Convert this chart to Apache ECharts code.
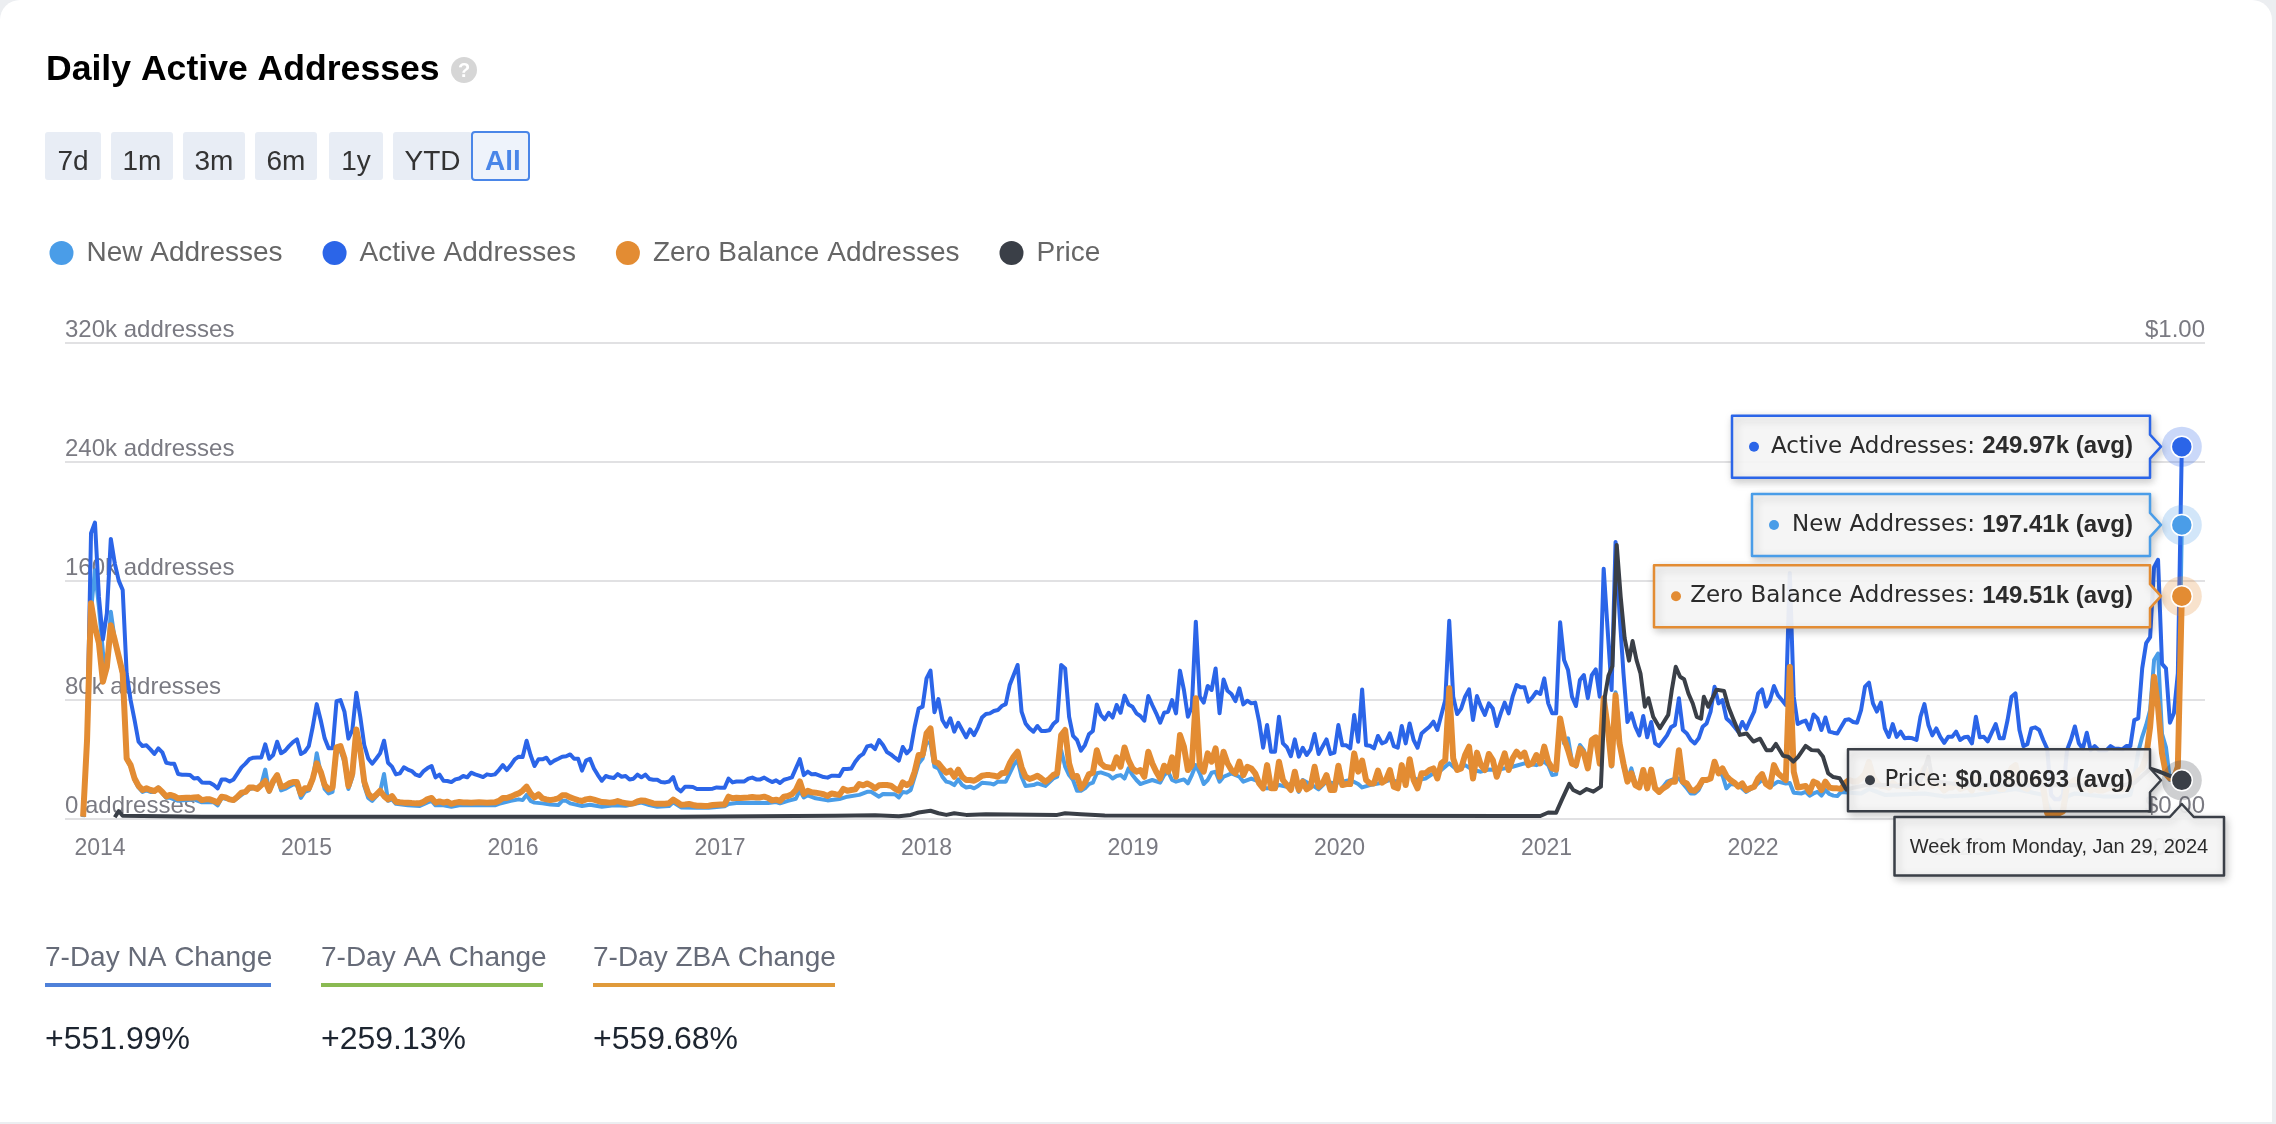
<!DOCTYPE html>
<html><head><meta charset="utf-8">
<style>html,body{margin:0;padding:0;background:#eceef1;width:2276px;height:1124px;overflow:hidden}
#card{position:absolute;left:0;top:0;width:2272px;height:1122px;background:#fff;border-radius:20px 20px 0 0}
#c{position:absolute;left:0;top:0;width:2276px;height:1124px}</style>
<script src="https://cdn.jsdelivr.net/npm/echarts@6/dist/echarts.min.js"></script>
</head><body><div id="card"></div><div id="c"></div>
<script>
// Weeks are counted from Monday 2 Dec 2013; week 530 is Monday 29 Jan 2024.
const firstWeek = [2013, 11, 2];
const yearTicks = [2014, 2015, 2016, 2017, 2018, 2019, 2020, 2021, 2022, 2023, 2024];
const addressTicks = [0, 80, 160, 240, 320];
const priceTicks = [0, 1];
const rangeButtons = ['7d', '1m', '3m', '6m', '1y', 'YTD', 'All'];
const seriesNames = ['New Addresses', 'Active Addresses', 'Zero Balance Addresses', 'Price'];
const statLabels = ['7-Day NA Change', '7-Day AA Change', '7-Day ZBA Change'];
const statValues = ['+551.99%', '+259.13%', '+559.68%'];

// thousands of addresses, one value per week
const activeWeekly = [
3,55,191.8,199,149,120.5,138,188,171.6,160,
153.7,97.7,79.7,66.3,51.7,48.8,49.3,46.6,43.5,47.3,
44.6,37.6,37,37,30,29.6,29.6,29.3,27,27.3,
24.4,24.2,24.2,22.6,20.4,26.4,26.4,25,26.4,30.5,
34.5,37,40,41,41.2,41.2,50,40.3,42.8,51.7,
44,45.7,48.8,51.5,53.3,43.5,45,48.8,61.8,77,
66.3,54,47.3,47.3,78.9,79.7,72,53.8,59.6,84.7,
68.5,49.5,40.5,37,40.3,43.9,52.4,37.6,35,29.8,
30.5,34.5,33,32,29.6,28.7,32,34,35.4,27.8,
29.6,25.5,25.3,24.6,26.4,27,28.7,27.8,30.9,29.8,
29,28,29.8,29.3,29.8,32.7,36,32.7,36,39.9,
41.7,41.4,52.4,42.8,35.4,39.9,39.9,41,37.2,39,
40.3,41.7,42,43.2,40.3,40.3,32.3,39,40.3,33.8,
29.3,25.5,28.7,27.8,27.3,30,28.2,28.7,26.4,26.9,
29.6,27.8,29.6,26.7,26.2,26.2,24.6,24.4,25,28,
20.4,18.4,21.5,21.5,21.3,20,20,20,20,20.2,
21,20.8,20.8,26.9,24.4,25,25,25,26.9,27.6,
26.4,26.4,27.6,26,24.6,25.8,24,26.2,26.9,27.8,
33.8,40,29.3,31.6,29.8,30,29,28,27.6,28.9,
28.9,28.7,33.4,33.4,33.8,38.3,41.7,43.5,48.6,49.3,
46.8,52.9,49.5,44.8,43.2,41,39,48.2,43.9,46.8,
61.8,74,75.3,94.3,99.5,71.5,80.4,66.3,61.8,67.4,
58.5,64.5,59.6,54.7,60,56.2,61.4,68,70.3,70.8,
72.4,73,75.7,77,89.8,96.5,103.3,71.9,64,60.7,
58.5,62.3,59,59,59.4,63.6,65.9,103.3,101,68.5,
55.6,52.9,45.7,49.5,56.7,59,76.8,69.7,66.8,71.2,
68,76.4,71.2,82.7,76.8,75.3,70.8,69,65.9,82.4,
76.4,70.8,64.5,71.2,71.9,79.7,70.8,99.5,86.5,68.5,
75.3,132.4,82,78,89.2,86.5,101,70.8,93.6,86,
83.8,79,87.6,76.8,79.3,77.5,78,65.2,47.7,63,
45,45,68.5,50.6,48,42,53.3,41.7,47.7,42.8,
46.6,56.9,43.5,48.4,53.3,43.5,44.4,62.9,49.3,49.3,
47.3,69.7,51.7,86.9,49.3,49,47.3,55.6,50.6,51.7,
57.3,48.8,47.7,62.3,50.6,64,52.9,47.7,57.3,59.6,
61.8,65.2,59.6,69.7,79.7,133,82,70.3,74,82,
86.9,66.3,82.4,75.3,69.7,77.5,74,62.3,70.8,78,
70.8,82,89.8,88.3,88.3,78.6,81.5,85.3,83.8,94.3,
77.5,70.8,70.8,132,106.6,99.9,82,75.7,93.2,96.5,
81,96.5,100.4,82,168,127,86.5,186,138,97.7,
65,70.8,61.8,56,69,54.7,65,50.6,48.8,52.4,
56,61.4,63,80.9,59.6,57.3,52.9,50.6,54,61.8,
64,71.9,88.7,77.5,79.7,67.4,65,61.8,58.5,65,
60.3,66.3,71.9,84.2,86.9,75.3,79.7,89.2,83,79.7,
76.4,165,82,63.6,65,65.9,60,70,67.4,59.6,
68,58.5,57.8,57.3,61.8,66.3,66.8,65,64.5,73,
88.7,91.4,77.5,72,78,60.7,55,63.6,55,58.5,
54,54.4,54,52.9,68.5,77,63,56,60.7,55,
51,55,55,58.5,52.9,54.7,55,50.6,68.5,54.7,
55,52,57.8,63.6,54,54,66.3,82,84.2,59.6,
48.8,50,60.7,61.4,59.6,52.9,47,16,13,13,
16,46,53,62,50.6,47,57.8,46,48.8,46,
46,46,48.8,47,47,46.6,48.8,48.8,66.3,67.4,
101,118,122,169,174,104,101,64.5,70.8,97.7,
249.97];

const zeroWeekly = [
1.3,52.9,144.7,129,117.8,92,102,130,120,109,
97.7,40.5,36,27,22,19.3,20.4,19.3,18.6,20.4,
18,15,16,15.2,13.7,13.9,14,14,14.3,14.5,
12.5,13,13,12,10.8,14.8,14.3,13,12.5,14.8,
17.5,18,21,21,20,22.6,25.3,18.8,25.3,29.3,
21.5,22,23.7,24.6,24.6,16.6,20.4,20.4,27,37.2,
31.6,22.6,19.7,21,47.9,48.8,40.5,22,30.5,60,
46,24.9,17,14,16,18.8,15.2,13,15.2,11.4,
11,10.8,10.8,10.5,10.3,10.3,11.4,13.2,13.9,10.8,
11.6,10.8,11.4,10,10.8,11.2,10.9,10.9,10.8,10.9,
11,10.9,10.8,10.9,11,12,13.9,13.9,14.8,16,
17,18.8,21.5,17,14.3,16.4,13.7,13,12.5,13,
13.7,15.7,15.7,14.3,13.4,12.5,11.9,13,13.4,12.8,
12,11.2,11,10.8,11,11.9,11,10.5,10,10.3,
11.6,12.3,12,11.2,10.3,10,10,10,10.5,12.8,
11.2,9.4,9.6,9.9,9.2,8.7,8.7,8.5,8.7,9.2,
9.4,9.6,9.6,14.8,13.7,14.1,13.9,14.1,14.3,14.6,
14.3,14.3,14.8,13.9,12.3,12.8,12,14.8,15.2,16.4,
19.3,25,16.6,18.8,17.7,17.5,17,16.4,15.2,17,
16.4,16,20,18.8,19.3,19.7,23.3,22.4,23.7,22.4,
20.4,22.4,22.6,22.6,22.2,20.2,18.8,24.4,22.6,24.2,
31.6,42.8,42.8,57.3,60.7,38.3,37.2,33.8,30.9,32.3,
28.2,33,28.2,26,26,25.5,27,28.9,29.3,29.3,
28.9,28.2,30.5,30.9,37.2,41.7,45,34.5,28.2,26.7,
27.6,28.9,27,24.9,26.7,29.3,30.5,56.2,59.6,37.2,
28.2,28.7,20.4,24.2,29.8,30.9,46,37.2,34.9,34.5,
33.8,41.2,34.9,47.9,39.4,33.8,31.6,32.7,28.2,45,
37.2,31.6,27,35.6,31.6,41.2,28.2,56.2,48.4,32.7,
36,80.9,36,31.6,43.9,38.3,47.3,28.2,45,37.2,
32.7,30.5,38.3,29.3,34.9,33.8,30.5,23.7,20.4,36,
20.4,20.4,38.3,26,22.6,19.3,31.6,19.3,24.9,19.7,
21.5,34.9,21.5,23.7,29.3,19.3,19.3,35.6,22.6,23.3,
23.3,43.9,31.6,39,26,23.7,23.7,32.3,24.2,26,
32.7,21.5,20.4,36,22.6,40,26,20.4,30.5,30.5,
32.7,33.8,27,37.2,39.4,87.6,40.5,32.7,33.8,42.8,
48.4,27,44.4,36,32.7,43.5,39.4,28.2,36,43.9,
32.7,40.5,45,41.7,44.4,36,37.2,42.8,37.2,48.4,
38.3,33.8,33,67.4,54,46,37,36,47.3,43.9,
33.8,52.9,54.7,37,80.9,61.8,36,83,50.6,37,
24.9,30.5,22.6,21,32.7,20.4,33,20.4,18,20.4,
22,24.9,24.9,46,24.9,23.7,19.3,18.8,21.5,26,
26,27,38.3,30.5,33.8,28.7,26,24.2,21.5,23.7,
19.3,20.4,21.5,27,30,23.3,21.5,36,30.5,28.2,
26,102,31.6,21,21.5,22,18,24.9,23.7,19.3,
24.9,21,20.4,20.4,20,24,26,25,25,27,
30,38,28,24,22,22,21,24,22,22,
22,22,21,21,28,34,26,22,25,22,
19,21,21,24,20,21,22,19,27,21,
21,20,22,25,20,20,26,34,36,24,
21,20,25,25,24,21,3.6,3.6,3.6,3.6,
5,23,24,26,21,20,25,19,20,19,
19,20,21,20,20,20,22,22,28,32,
34,41.7,61.8,95.4,75,44,30,27,27,35,
149.51];

// [week, thousands of addresses], read at the visible turning points
const newPoints = [[0,1],[1,52],[2,140],[3,167],[4,142],[5,112],[6,100],[7,139],[8,120],[9,108],[10,96],[11,40],[12,35],[13,26],[14,21],[15,18],[16,19],[17,18],[18,18],[19,21],[20,17],[21,14],[22,14],[24,12],[28,13],[30,11],[33,11],[34,9],[35,14],[38,12],[40,16],[42,20],[44,21],[45,23],[46,33],[47,18],[48,24],[49,28],[50,19],[51,20],[53,23],[54,23],[55,14],[56,18],[57,19],[58,26],[59,44],[60,31],[61,20],[62,17],[63,18],[64,45],[65,46],[66,38],[67,20],[68,28],[69,58],[70,44],[71,22],[72,14],[73,12],[74,15],[75,18],[76,30],[77,12],[78,13],[79,10],[82,9],[85,8.5],[87,11],[88,12],[89,9],[91,9],[93,8],[95,9],[104,9],[105,10],[108,12],[110,13],[111,12.5],[112,16],[113,12],[114,10.8],[116,10.3],[118,9.6],[120,9.2],[121,12],[122,12],[123,10.3],[126,8.5],[128,9.4],[131,8],[134,9],[137,8.7],[140,10.3],[141,10.8],[143,9.2],[145,8],[148,8.5],[149,11],[151,7.6],[155,7.4],[158,7.4],[162,8.3],[163,9.9],[165,10.5],[170,10.8],[173,10.5],[175,11.2],[176,10.3],[178,12],[180,13.4],[181,19],[182,14.3],[183,15.7],[185,13.7],[188,12.3],[191,13.2],[193,14.8],[196,16],[198,18.1],[199,18.1],[201,14.8],[202,16.6],[205,16.4],[206,14.3],[207,18],[208,17.5],[209,19.3],[210,28],[211,37],[212,40.5],[213,51.7],[214,50.6],[215,35],[216,33.8],[217,28.2],[218,24.9],[219,24.2],[220,22.6],[221,26.4],[222,22.6],[223,21],[224,21.5],[225,20.4],[226,22],[227,24.2],[229,23.7],[230,23],[231,24.9],[233,24.9],[234,30.5],[235,36],[236,39.4],[237,28.2],[238,22],[240,22.6],[241,23.7],[243,22],[245,27],[246,28.2],[247,46],[248,35],[249,29.3],[250,26],[251,18.8],[252,18.8],[253,20.4],[254,23.3],[255,24.2],[256,30.5],[257,31.1],[259,29.3],[260,27],[261,28.7],[262,29.3],[263,27],[264,33.8],[265,29.3],[266,26],[267,23.3],[268,24.2],[270,26],[272,24.2],[273,29.3],[274,31.6],[275,26],[276,24.9],[278,26.4],[279,23.7],[280,29.3],[281,36],[282,30.5],[283,23.3],[284,26],[285,30.9],[286,31.6],[287,24.9],[288,28.2],[289,29.3],[290,30.5],[292,28.2],[293,24.9],[295,27],[297,24.9],[298,20.4],[300,20.4],[302,22.6],[304,21.5],[306,26],[307,18],[308,26],[311,21.5],[312,19.7],[314,24.9],[316,23.7],[318,24.9],[320,26],[322,23.3],[323,21],[325,22.6],[328,24.2],[330,26],[332,24.9],[333,28.2],[335,29.3],[337,26],[339,27],[341,30.5],[343,32.7],[345,37.2],[347,32.7],[349,36],[351,32.7],[353,31.6],[355,33],[357,32.7],[359,33.8],[361,34.9],[364,37.2],[367,36],[369,38.3],[370,36],[371,29.3],[372,29.8],[373,66],[374,50.6],[375,54],[376,38.3],[377,35],[378,49.5],[379,46],[380,35],[381,50.6],[382,54],[383,37],[384,73],[385,59.6],[386,35],[387,85],[388,52.9],[389,35],[390,26],[391,33.8],[392,23.7],[393,21],[394,29.3],[395,20.4],[396,30.5],[397,20.4],[398,18],[400,24.9],[402,27],[403,27],[404,23.7],[405,20.4],[406,17],[407,17],[408,19.3],[409,24.9],[411,27],[412,37],[413,30.5],[414,29.3],[415,20.4],[416,23.3],[418,22.6],[420,18],[422,21.5],[424,26],[426,21.5],[428,24.9],[430,23.7],[431,24],[432,17.5],[434,17],[435,18],[436,15.5],[437,17],[438,18],[439,15.5],[440,19.3],[441,16.6],[442,15.5],[443,15.2],[444,18],[449,17],[451,20],[455,16],[465,17],[470,15],[478,16],[488,20],[495,16],[496,10],[497,4],[499,4],[500,6],[501,15],[503,17],[510,15],[515,15],[517,16],[518,28],[519,45],[520,55],[521,63],[522,73],[523,106.6],[524,111],[525,57],[526,48],[527,26],[528,30],[529,30],[530,197.41]];

// [week, US dollars], read at the visible turning points
const pricePoints = [[8,0.003],[9,0.016],[10,0.006],[30,0.004],[100,0.004],[150,0.004],[190,0.006],[200,0.007],[206,0.005],[209,0.008],[211,0.013],[214,0.0167],[216,0.0115],[218,0.008],[220,0.0115],[223,0.008],[228,0.0095],[246,0.008],[248,0.0115],[252,0.0095],[258,0.0065],[300,0.006],[360,0.0057],[368,0.0057],[370,0.013],[372,0.0127],[373.4,0.039],[375.3,0.073],[376.3,0.0602],[378,0.0533],[379.7,0.0624],[381.4,0.0568],[383.3,0.0672],[384.3,0.2563],[385.2,0.3],[386.2,0.32],[387.3,0.575],[388.3,0.466],[389.3,0.379],[390.4,0.332],[391.3,0.373],[392.3,0.333],[393.3,0.305],[394.4,0.235],[395.3,0.253],[396.5,0.214],[398.2,0.19],[400.3,0.218],[401.2,0.27],[402.2,0.319],[403.3,0.298],[404.3,0.293],[405.4,0.263],[406.5,0.242],[407.5,0.214],[408.6,0.21],[409.3,0.256],[410.4,0.235],[412.5,0.271],[414.4,0.268],[415.5,0.235],[416.7,0.21],[418.4,0.176],[420.1,0.179],[421.8,0.162],[423.5,0.168],[425.1,0.144],[426.4,0.144],[427.5,0.157],[429.3,0.132],[430.6,0.13],[431.9,0.12],[433.1,0.13],[435,0.153],[436.5,0.144],[438.2,0.143],[439.4,0.13],[440.7,0.095],[442,0.0875],[443.6,0.085],[445.3,0.061],[447,0.065],[450,0.07],[455,0.07],[460,0.068],[464,0.08],[466,0.13],[467,0.08],[475,0.07],[500,0.07],[515,0.07],[518,0.075],[520,0.09],[522,0.105],[524,0.1],[527,0.09],[530,0.080693]];

const WEEK = 7 * 864e5, T0 = Date.UTC(...firstWeek);
const when = w => T0 + w * WEEK;
const colors = ['#4a9de8', '#2b65e8', '#e38c33', '#3a3f47'];
const sans = '"Liberation Sans", Arial, sans-serif';
const lastWeek = 530;

const newData = newPoints.map(p => [when(p[0]), p[1]]);
const activeData = activeWeekly.map((v, i) => [when(i), v]);
const zeroData = zeroWeekly.map((v, i) => [when(i), v]);
const priceData = pricePoints.map(p => [when(p[0]), p[1]]);

const chart = echarts.init(document.getElementById('c'), null, { renderer: 'canvas', width: 2276, height: 1124 });
const line = (i, data, w, axis) => ({
  name: seriesNames[i], type: 'line', data, yAxisIndex: axis, showSymbol: false, symbol: 'none',
  smooth: false, lineStyle: { color: colors[i], width: w, join: 'round' }, itemStyle: { color: colors[i] }, z: 3 + i, clip: false
});
const gridLines = { show: true, lineStyle: { color: '#e1e1e3', width: 2 } };
chart.setOption({
  animation: false, backgroundColor: 'transparent',
  title: { text: 'Daily Active Addresses', left: 41, top: 47, textStyle: { fontFamily: sans, fontSize: 35.6, fontWeight: 'bold', color: '#000' } },
  legend: {
    left: 44.5, top: 234, icon: 'circle', itemWidth: 24, itemHeight: 24, itemGap: 40,
    textStyle: { fontFamily: sans, fontSize: 28, color: '#666', padding: [0, 0, 0, 8] }, selectedMode: false,
    data: seriesNames
  },
  grid: { left: 65, right: 71, top: 342.5, bottom: 305.3 },
  xAxis: {
    type: 'value', min: Date.UTC(2013, 9, 31), max: Date.UTC(2024, 2, 10),
    axisLine: { show: false }, axisTick: { show: false }, splitLine: { show: false },
    axisLabel: {
      customValues: yearTicks.map(y => Date.UTC(y, 0, 1)), hideOverlap: false, margin: 18,
      formatter: v => String(new Date(v).getUTCFullYear()),
      fontFamily: sans, fontSize: 23, color: '#7a7a82'
    }
  },
  yAxis: [{
    type: 'value', min: addressTicks[0], max: addressTicks[4], interval: addressTicks[1],
    axisLine: { show: false }, axisTick: { show: false }, splitLine: gridLines,
    axisLabel: { inside: true, verticalAlign: 'bottom', margin: 0, formatter: v => (v ? v + 'k' : '0') + ' addresses', fontFamily: sans, fontSize: 24, color: '#7a7a82' }
  }, {
    type: 'value', position: 'right', min: priceTicks[0], max: priceTicks[1], interval: 1,
    axisLine: { show: false }, axisTick: { show: false }, splitLine: { show: false },
    axisLabel: { inside: true, verticalAlign: 'bottom', margin: 0, formatter: v => '$' + v.toFixed(2), fontFamily: sans, fontSize: 24, color: '#7a7a82' }
  }],
  series: [line(0, newData, 4, 0), line(1, activeData, 4, 0), line(2, zeroData, 6, 0), line(3, priceData, 4, 1)]
});

// page furniture and the hover call-outs, placed from the library's own scales
const g = [];
g.push({ type: 'circle', shape: { cx: 464, cy: 70, r: 13 }, style: { fill: '#d6d6d6' } });
g.push({ type: 'text', style: { text: '?', x: 464, y: 71, align: 'center', verticalAlign: 'middle', font: 'bold 20px ' + sans, fill: '#fff' } });

const btnEdges = [[45, 101], [111, 173], [183, 245], [255, 317], [329, 383], [393, 472], [472, 529]];
rangeButtons.forEach((t, i) => {
  const [a, b] = btnEdges[i], on = t === 'All';
  g.push({ type: 'rect', shape: { x: a, y: 132, width: b - a, height: 48, r: 3 }, z: on ? 3 : 2,
    style: { fill: on ? '#eef3fb' : '#e8edf5', stroke: on ? '#4a86e8' : null, lineWidth: on ? 2 : 0 } });
  g.push({ type: 'text', z: 4, style: { text: t, x: (a + b) / 2 + (on ? 2.5 : 0), y: 162.5, align: 'center', verticalAlign: 'middle',
    font: (on ? 'bold ' : '') + '28px ' + sans, fill: on ? '#4a86e8' : '#333' } });
});

const statEdges = [[45, 271, '#4f81d9'], [321, 543, '#8aba52'], [593, 835, '#e09a3a']];
statLabels.forEach((t, i) => {
  const [a, b, col] = statEdges[i];
  g.push({ type: 'text', style: { text: t, x: a, y: 958, verticalAlign: 'middle', font: '28px ' + sans, fill: '#666b78' } });
  g.push({ type: 'rect', shape: { x: a, y: 983, width: b - a, height: 4 }, style: { fill: col } });
  g.push({ type: 'text', style: { text: statValues[i], x: a, y: 1040, verticalAlign: 'middle', font: '32px ' + sans, fill: '#1d2530' } });
});

const tipFill = 'rgba(247,247,247,0.93)', shadow = { shadowBlur: 8, shadowColor: 'rgba(0,0,0,0.22)', shadowOffsetY: 3, shadowOffsetX: 2 };
const calls = [
  { i: 1, label: 'Active Addresses: ', val: '249.97k (avg)', v: activeWeekly[lastWeek], left: 1732, axis: 0 },
  { i: 0, label: 'New Addresses: ', val: '197.41k (avg)', v: newPoints[newPoints.length - 1][1], left: 1752, axis: 0 },
  { i: 2, label: 'Zero Balance Addresses: ', val: '149.51k (avg)', v: zeroWeekly[lastWeek], left: 1654, axis: 0 },
  { i: 3, label: 'Price: ', val: '$0.080693 (avg)', v: pricePoints[pricePoints.length - 1][1], left: 1848, axis: 1 }
];
const right = 2150, halfH = 31;
calls.forEach(c => {
  const col = colors[c.i];
  const [px, py] = chart.convertToPixel({ xAxisIndex: 0, yAxisIndex: c.axis }, [when(lastWeek), c.v]);
  g.push({ type: 'polygon', z: 100, shape: { points: [[c.left, py - halfH], [right, py - halfH], [right, py - 12], [right + 11, py], [right, py + 12], [right, py + halfH], [c.left, py + halfH]] },
    style: Object.assign({ fill: tipFill, stroke: col, lineWidth: 2.5, lineJoin: 'round' }, shadow) });
  g.push({ type: 'circle', z: 101, shape: { cx: c.left + 22, cy: py, r: 5 }, style: { fill: col } });
  g.push({ type: 'text', z: 101, style: { text: '{a|' + c.label + '}{b|' + c.val + '}', x: right - 17, y: py, align: 'right', verticalAlign: 'middle',
    rich: { a: { font: '23px "DejaVu Sans"', fill: '#2b2b2b' }, b: { font: 'bold 24px "Liberation Sans"', fill: '#2b2b2b' } } } });
  g.push({ type: 'circle', z: 110, shape: { cx: px, cy: py, r: 20 }, style: { fill: col, opacity: 0.25 } });
  g.push({ type: 'circle', z: 111, shape: { cx: px, cy: py, r: 10.5 }, style: { fill: col, stroke: '#fff', lineWidth: 1.5 } });
});
const [dx] = chart.convertToPixel({ xAxisIndex: 0, yAxisIndex: 0 }, [when(lastWeek), 0]);
g.push({ type: 'polygon', z: 120, shape: { points: [[1894.5, 817], [dx - 12, 817], [dx, 804], [dx + 12, 817], [2224, 817], [2224, 875.5], [1894.5, 875.5]] },
  style: Object.assign({ fill: tipFill, stroke: colors[3], lineWidth: 2.5, lineJoin: 'round' }, shadow) });
g.push({ type: 'text', z: 121, style: { text: 'Week from Monday, Jan 29, 2024', x: 2059, y: 847, align: 'center', verticalAlign: 'middle', font: '20px ' + sans, fill: '#2b2b2b' } });
chart.setOption({ graphic: g });
</script></body></html>
